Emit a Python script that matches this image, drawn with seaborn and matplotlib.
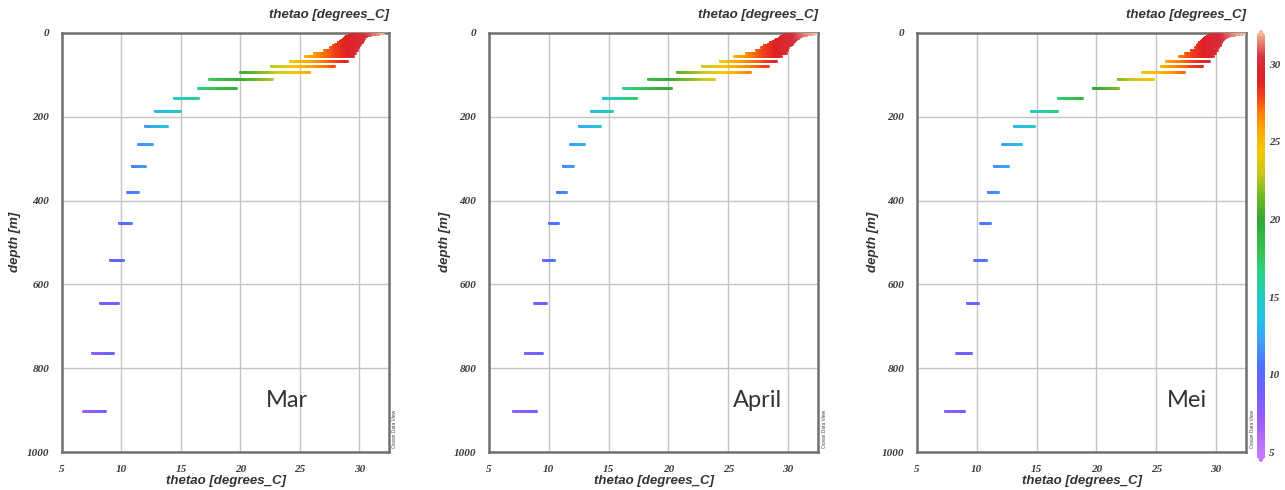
import numpy as np
import pandas as pd
import matplotlib
matplotlib.use("Agg")
import matplotlib.pyplot as plt
import seaborn as sns
from matplotlib.collections import LineCollection
from matplotlib.colors import LinearSegmentedColormap, Normalize
from matplotlib.ticker import MultipleLocator

# ---------------- data ----------------
DEPTHS = [0.494, 1.541, 2.646, 3.819, 5.078, 6.441, 7.930, 9.573, 11.405, 13.467,
          15.810, 18.496, 21.599, 25.211, 29.445, 34.434, 40.344, 47.374, 55.764,
          65.807, 77.854, 92.326, 109.729, 130.666, 155.851, 186.126, 222.475,
          266.040, 318.127, 380.213, 453.938, 541.089, 643.567, 763.333, 902.339]

MAR_TMIN = [29.4, 29.3, 29.3, 29.2, 29.1, 29.0, 28.9, 28.8, 28.7, 28.6, 28.5, 28.4,
            28.2, 28.0, 27.8, 27.5, 27.0, 26.2, 25.4, 24.2, 22.6, 20.0, 17.4, 16.4,
            14.4, 12.8, 12.0, 11.4, 10.9, 10.5, 9.8, 9.0, 8.2, 7.5, 6.8]
MAR_TMAX = [32.0, 31.6, 31.2, 30.9, 30.7, 30.6, 30.5, 30.4, 30.4, 30.3, 30.3, 30.2,
            30.2, 30.1, 30.0, 29.9, 29.8, 29.6, 29.5, 29.0, 27.9, 25.8, 22.7, 19.6,
            16.4, 14.9, 13.8, 12.6, 12.0, 11.4, 10.8, 10.1, 9.7, 9.3, 8.6]

APR_TMIN = [30.0, 29.9, 29.8, 29.7, 29.6, 29.5, 29.4, 29.3, 29.2, 29.0, 28.9, 28.7,
            28.5, 28.3, 28.0, 27.7, 27.3, 26.5, 25.5, 24.3, 22.8, 20.7, 18.3, 16.2,
            14.5, 13.5, 12.5, 11.8, 11.2, 10.7, 10.0, 9.5, 8.8, 8.0, 7.0]
APR_TMAX = [32.4, 32.1, 31.8, 31.5, 31.3, 31.1, 31.0, 30.9, 30.8, 30.7, 30.6, 30.5,
            30.4, 30.3, 30.2, 30.0, 29.9, 29.8, 29.4, 29.0, 28.3, 26.8, 23.8, 20.2,
            17.3, 15.3, 14.3, 12.9, 12.0, 11.4, 10.8, 10.4, 9.8, 9.4, 8.9]

MEI_TMIN = [29.8, 29.7, 29.6, 29.5, 29.4, 29.3, 29.2, 29.1, 29.0, 28.9, 28.8, 28.7,
            28.6, 28.5, 28.4, 28.2, 27.9, 27.4, 26.9, 25.8, 25.4, 23.8, 21.8, 19.7,
            16.8, 14.5, 13.1, 12.1, 11.4, 10.9, 10.3, 9.8, 9.2, 8.3, 7.3]
MEI_TMAX = [32.5, 32.2, 31.8, 31.5, 31.2, 31.0, 30.9, 30.8, 30.7, 30.6, 30.5, 30.4,
            30.4, 30.3, 30.3, 30.2, 30.1, 29.9, 29.7, 29.4, 28.8, 27.3, 24.7, 21.8,
            18.8, 16.7, 14.8, 13.7, 12.6, 11.8, 11.1, 10.8, 10.1, 9.5, 8.9]

MONTHS = ["Mar", "April", "Mei"]
X_TICKS = [5, 10, 15, 20, 25, 30]
Y_TICKS = [0, 200, 400, 600, 800, 1000]
CBAR_TICKS = [5, 10, 15, 20, 25, 30]
VAR_LABEL = "thetao [degrees_C]"
DEPTH_LABEL = "depth [m]"

# ---------------- style ----------------
sns.set_theme(style="white")
plt.rcParams['font.family'] = ['Liberation Sans', 'DejaVu Sans']

VMIN, VMAX = 4.8, 31.8
nodes = [(4.8, "#c57bff"), (7.0, "#9b5cff"), (9.0, "#7060ff"), (10.5, "#5070ff"),
         (12.0, "#3e9cff"), (13.5, "#28bde8"), (15.0, "#22cbc4"), (16.5, "#2cd08a"),
         (18.0, "#35c050"), (20.0, "#33a835"), (21.5, "#6db824"), (23.0, "#c6c81a"),
         (24.5, "#f7c600"), (26.0, "#ffa200"), (27.0, "#ff7a00"), (28.0, "#f0401a"),
         (29.0, "#e02024"), (30.5, "#d6303c"), (31.8, "#eea088")]
cmap = LinearSegmentedColormap.from_list(
    "odv", [((t - VMIN) / (VMAX - VMIN), c) for t, c in nodes])
cmap.set_over("#f5b496")
cmap.set_under("#c57bff")
norm = Normalize(vmin=VMIN, vmax=VMAX)

W, H = 1285, 490
fig = plt.figure(figsize=(W / 100, H / 100), dpi=100)

panel_left_px = [62, 489, 917]
panel_w_px = [327, 329, 329]
ax_top_px, ax_bot_px = 33, 452
ylabel_px = [15, 445, 873]
month_x = [0.688, 0.815, 0.82]

series = [(MAR_TMIN, MAR_TMAX), (APR_TMIN, APR_TMAX), (MEI_TMIN, MEI_TMAX)]

tick_font = dict(family=['Liberation Serif', 'DejaVu Serif'], style='italic',
                 weight='bold', size=8, color='#3a3a3a')
lab_font = dict(family=['Liberation Sans', 'DejaVu Sans'], style='italic',
                weight='bold', size=9.5, color='#333333')

for i, (month, (tmin, tmax)) in enumerate(zip(MONTHS, series)):
    left = panel_left_px[i] / W
    width = panel_w_px[i] / W
    bottom = 1 - ax_bot_px / H
    height = (ax_bot_px - ax_top_px) / H
    ax = fig.add_axes([left, bottom, width, height])

    # gradient-coloured bars (range of values at each depth level)
    segs, vals = [], []
    for d, a, b in zip(DEPTHS, tmin, tmax):
        edges = np.linspace(a, b, 30)
        for x0, x1 in zip(edges[:-1], edges[1:]):
            segs.append([(x0, d), (x1, d)])
            vals.append(0.5 * (x0 + x1))
    lc = LineCollection(segs, cmap=cmap, norm=norm, linewidths=1.9,
                        capstyle='projecting', zorder=3)
    lc.set_array(np.array(vals))
    ax.add_collection(lc)

    # endpoints via seaborn
    df = pd.DataFrame({"depth": DEPTHS * 2, "temp": list(tmin) + list(tmax)})
    sns.scatterplot(data=df, x="temp", y="depth", hue="temp", palette=cmap,
                    hue_norm=norm, marker="s", s=1.5, linewidth=0, legend=False,
                    ax=ax, zorder=4)

    ax.set_xlim(5, 32.5)
    ax.set_ylim(1000, 0)
    ax.set_xticks(X_TICKS)
    ax.set_yticks(Y_TICKS)
    ax.xaxis.set_minor_locator(MultipleLocator(2.5))
    ax.yaxis.set_minor_locator(MultipleLocator(100))
    ax.set_xticklabels([str(t) for t in X_TICKS], fontdict=tick_font)
    ax.set_yticklabels([str(t) for t in Y_TICKS], fontdict=tick_font)
    ax.tick_params(axis='both', which='major', length=0, pad=9)
    ax.tick_params(axis='x', which='major', pad=9)
    ax.tick_params(axis='both', which='minor', length=3, width=0.8,
                   color='#9a9a9a', direction='out')
    ax.grid(True, which='major', color='#c4c4c4', linewidth=1.0, zorder=0)
    ax.set_axisbelow(True)
    for sp in ax.spines.values():
        sp.set_color('#707070')
        sp.set_linewidth(1.8)
        sp.set_visible(True)

    ax.set_xlabel("")
    ax.set_ylabel("")
    ax.text(0.5, -(481 - ax_bot_px) / (ax_bot_px - ax_top_px), VAR_LABEL,
            transform=ax.transAxes, ha='center', va='center', **lab_font)
    ax.text(1.0, 1 + 18 / (ax_bot_px - ax_top_px), VAR_LABEL,
            transform=ax.transAxes, ha='right', va='center', **lab_font)
    fig.text(ylabel_px[i] / W, 1 - 242 / H, DEPTH_LABEL, rotation=90,
             ha='center', va='center', **lab_font)

    ax.text(month_x[i], 0.122, month, transform=ax.transAxes, ha='center',
            va='center', fontsize=17, color='#333333',
            family=['Lato', 'DejaVu Sans'])
    ax.text(1 + 6 / panel_w_px[i], 0.01, "Ocean Data View", transform=ax.transAxes,
            rotation=90, ha='center', va='bottom', fontsize=3.5, color='#444444')

# colorbar
cax = fig.add_axes([1257 / W, 1 - 462 / H, 8 / W, (462 - 30) / H])
sm = plt.cm.ScalarMappable(norm=norm, cmap=cmap)
cb = fig.colorbar(sm, cax=cax, extend='both', extendfrac=0.015, ticks=CBAR_TICKS)
cb.outline.set_visible(False)
cb.ax.tick_params(length=0, pad=3)
cb.ax.set_yticklabels([str(t) for t in CBAR_TICKS], fontdict=tick_font)

fig.savefig("out.png", dpi=100)
